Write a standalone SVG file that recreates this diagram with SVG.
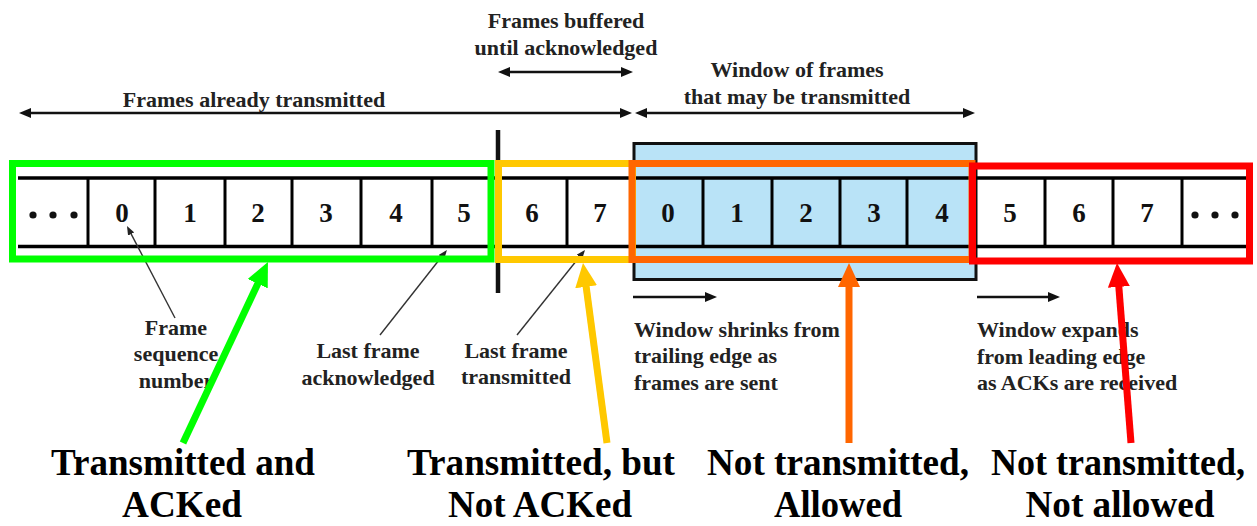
<svg xmlns="http://www.w3.org/2000/svg" width="1257" height="526" viewBox="0 0 1257 526">
<style>
.lbl{font-family:"Liberation Serif","Times New Roman",serif;font-weight:bold;font-size:22px;fill:#222}
.num{font-family:"Liberation Serif","Times New Roman",serif;font-weight:bold;font-size:27px;fill:#111;text-anchor:middle}
.big{font-family:"Liberation Serif","Times New Roman",serif;font-weight:bold;font-size:38px;fill:#000;text-anchor:middle}
.mid{text-anchor:middle}
.strip{stroke:#000;stroke-width:3.5;fill:none}
.div{stroke:#000;stroke-width:3}
.blk{stroke:#111;stroke-width:2.5;fill:none}
.ptr{stroke:#333;stroke-width:1.4;fill:none}
.zone{fill:none;stroke-width:7}
.big-arrow{fill:none;stroke-width:7}
</style>
<defs>
<marker id="ah" viewBox="0 0 12 10" refX="1" refY="5" markerWidth="12" markerHeight="10" markerUnits="userSpaceOnUse" orient="auto-start-reverse"><path d="M0,0 L12,5 L0,10 z" fill="#111"/></marker>
<marker id="ahs" viewBox="0 0 9 7" refX="1" refY="3.5" markerWidth="9" markerHeight="7" markerUnits="userSpaceOnUse" orient="auto"><path d="M0,0 L9,3.5 L0,7 z" fill="#222"/></marker>
<marker id="ag" viewBox="0 0 24 22" refX="2" refY="11" markerWidth="24" markerHeight="22" markerUnits="userSpaceOnUse" orient="auto"><path d="M0,0 L24,11 L0,22 z" fill="#00FF00"/></marker>
<marker id="ay" viewBox="0 0 24 22" refX="2" refY="11" markerWidth="24" markerHeight="22" markerUnits="userSpaceOnUse" orient="auto"><path d="M0,0 L24,11 L0,22 z" fill="#FFC800"/></marker>
<marker id="ao" viewBox="0 0 24 22" refX="2" refY="11" markerWidth="24" markerHeight="22" markerUnits="userSpaceOnUse" orient="auto"><path d="M0,0 L24,11 L0,22 z" fill="#FF6600"/></marker>
<marker id="ar" viewBox="0 0 24 22" refX="2" refY="11" markerWidth="24" markerHeight="22" markerUnits="userSpaceOnUse" orient="auto"><path d="M0,0 L24,11 L0,22 z" fill="#FF0000"/></marker>
</defs>
<rect width="1257" height="526" fill="#fff"/>

<g id="window-box">
<rect x="634" y="143.5" width="342" height="136" fill="#B9E3F7" stroke="#111" stroke-width="3"/>
</g>

<g id="strip">
<line class="strip" x1="18" y1="178" x2="1246" y2="178"/>
<line class="strip" x1="18" y1="246.5" x2="1246" y2="246.5"/>
</g>

<g id="cell-dots-left"><circle cx="33" cy="215" r="3.6" fill="#111"/><circle cx="53" cy="215" r="3.6" fill="#111"/><circle cx="74" cy="215" r="3.6" fill="#111"/><line class="div" x1="88" y1="178" x2="88" y2="246"/></g>
<g id="cell-a0"><text class="num" x="122" y="222">0</text><line class="div" x1="155" y1="178" x2="155" y2="246"/></g>
<g id="cell-a1"><text class="num" x="190" y="222">1</text><line class="div" x1="225" y1="178" x2="225" y2="246"/></g>
<g id="cell-a2"><text class="num" x="258" y="222">2</text><line class="div" x1="292" y1="178" x2="292" y2="246"/></g>
<g id="cell-a3"><text class="num" x="326" y="222">3</text><line class="div" x1="361" y1="178" x2="361" y2="246"/></g>
<g id="cell-a4"><text class="num" x="396" y="222">4</text><line class="div" x1="432" y1="178" x2="432" y2="246"/></g>
<g id="cell-a5"><text class="num" x="464" y="222">5</text></g>
<g id="cell-b6"><text class="num" x="532" y="222">6</text><line class="div" x1="567" y1="178" x2="567" y2="246"/></g>
<g id="cell-b7"><text class="num" x="600" y="222">7</text></g>
<g id="cell-w0"><text class="num" x="668" y="222">0</text><line class="div" x1="703" y1="178" x2="703" y2="246"/></g>
<g id="cell-w1"><text class="num" x="737" y="222">1</text><line class="div" x1="772" y1="178" x2="772" y2="246"/></g>
<g id="cell-w2"><text class="num" x="806" y="222">2</text><line class="div" x1="840" y1="178" x2="840" y2="246"/></g>
<g id="cell-w3"><text class="num" x="874" y="222">3</text><line class="div" x1="907" y1="178" x2="907" y2="246"/></g>
<g id="cell-w4"><text class="num" x="942" y="222">4</text></g>
<g id="cell-c5"><text class="num" x="1010" y="222">5</text><line class="div" x1="1045" y1="178" x2="1045" y2="246"/></g>
<g id="cell-c6"><text class="num" x="1079" y="222">6</text><line class="div" x1="1113" y1="178" x2="1113" y2="246"/></g>
<g id="cell-c7"><text class="num" x="1147" y="222">7</text><line class="div" x1="1182" y1="178" x2="1182" y2="246"/></g>
<g id="cell-dots-right"><circle cx="1195" cy="215" r="3.6" fill="#111"/><circle cx="1215" cy="215" r="3.6" fill="#111"/><circle cx="1235" cy="215" r="3.6" fill="#111"/></g>

<g id="boundary">
<line x1="498" y1="130" x2="498" y2="293" stroke="#111" stroke-width="4.5"/>
</g>

<g id="top-labels">
<text class="lbl mid" x="254" y="107">Frames already transmitted</text>
<text class="lbl mid" x="566" y="28">Frames buffered</text>
<text class="lbl mid" x="566" y="55">until acknowledged</text>
<text class="lbl mid" x="797" y="77">Window of frames</text>
<text class="lbl mid" x="797" y="104">that may be transmitted</text>
</g>

<g id="connectors">
<line class="blk" x1="30" y1="113" x2="621" y2="113" marker-start="url(#ah)" marker-end="url(#ah)"/>
<line class="blk" x1="646" y1="113" x2="964" y2="113" marker-start="url(#ah)" marker-end="url(#ah)"/>
<line class="blk" x1="509" y1="72" x2="622" y2="72" marker-start="url(#ah)" marker-end="url(#ah)"/>
<line class="blk" x1="633" y1="297" x2="706" y2="297" marker-end="url(#ah)"/>
<line class="blk" x1="977" y1="297" x2="1049" y2="297" marker-end="url(#ah)"/>
<line class="ptr" x1="175" y1="318" x2="130.7" y2="233.1" marker-end="url(#ahs)"/>
<line class="ptr" x1="380" y1="335" x2="442" y2="256.3" marker-end="url(#ahs)"/>
<line class="ptr" x1="517" y1="335" x2="580" y2="256.2" marker-end="url(#ahs)"/>
</g>

<g id="pointer-labels">
<text class="lbl mid" x="176" y="335">Frame</text>
<text class="lbl mid" x="176" y="361">sequence</text>
<text class="lbl mid" x="176" y="388">number</text>
<text class="lbl mid" x="368" y="358">Last frame</text>
<text class="lbl mid" x="368" y="385">acknowledged</text>
<text class="lbl mid" x="516" y="358">Last frame</text>
<text class="lbl mid" x="516" y="384">transmitted</text>
<text class="lbl" x="634" y="337">Window shrinks from</text>
<text class="lbl" x="634" y="363">trailing edge as</text>
<text class="lbl" x="634" y="390">frames are sent</text>
<text class="lbl" x="977" y="337">Window expands</text>
<text class="lbl" x="977" y="364">from leading edge</text>
<text class="lbl" x="977" y="390">as ACKs are received</text>
</g>

<g id="zone-acked"><rect class="zone" x="12.5" y="163.5" width="478.5" height="95.5" stroke="#00FF00"/></g>
<g id="zone-unacked"><rect class="zone" x="498.5" y="163.5" width="134" height="96" stroke="#FFC800"/></g>
<g id="zone-allowed"><rect class="zone" x="632" y="163.5" width="340" height="96" stroke="#FF6600"/></g>
<g id="zone-notallowed"><rect class="zone" x="972.5" y="166" width="277" height="95" stroke="#FF0000" stroke-width="8.5"/></g>

<g id="big-arrows">
<line class="big-arrow" x1="183" y1="443" x2="258.6" y2="281.9" stroke="#00FF00" marker-end="url(#ag)"/>
<line class="big-arrow" x1="607" y1="443" x2="585.9" y2="284.8" stroke="#FFC800" marker-end="url(#ay)"/>
<line class="big-arrow" x1="849" y1="443" x2="849" y2="285" stroke="#FF6600" marker-end="url(#ao)"/>
<line class="big-arrow" x1="1131" y1="443" x2="1118.7" y2="284.9" stroke="#FF0000" marker-end="url(#ar)"/>
</g>

<g id="zone-labels">
<text class="big" x="183" y="475" textLength="264" lengthAdjust="spacingAndGlyphs">Transmitted and</text>
<text class="big" x="182" y="517" textLength="120" lengthAdjust="spacingAndGlyphs">ACKed</text>
<text class="big" x="541" y="475" textLength="268" lengthAdjust="spacingAndGlyphs">Transmitted, but</text>
<text class="big" x="540" y="517" textLength="184" lengthAdjust="spacingAndGlyphs">Not ACKed</text>
<text class="big" x="838" y="475" textLength="262" lengthAdjust="spacingAndGlyphs">Not transmitted,</text>
<text class="big" x="838" y="517" textLength="128" lengthAdjust="spacingAndGlyphs">Allowed</text>
<text class="big" x="1118" y="475" textLength="254" lengthAdjust="spacingAndGlyphs">Not transmitted,</text>
<text class="big" x="1120" y="517" textLength="189" lengthAdjust="spacingAndGlyphs">Not allowed</text>
</g>
</svg>
